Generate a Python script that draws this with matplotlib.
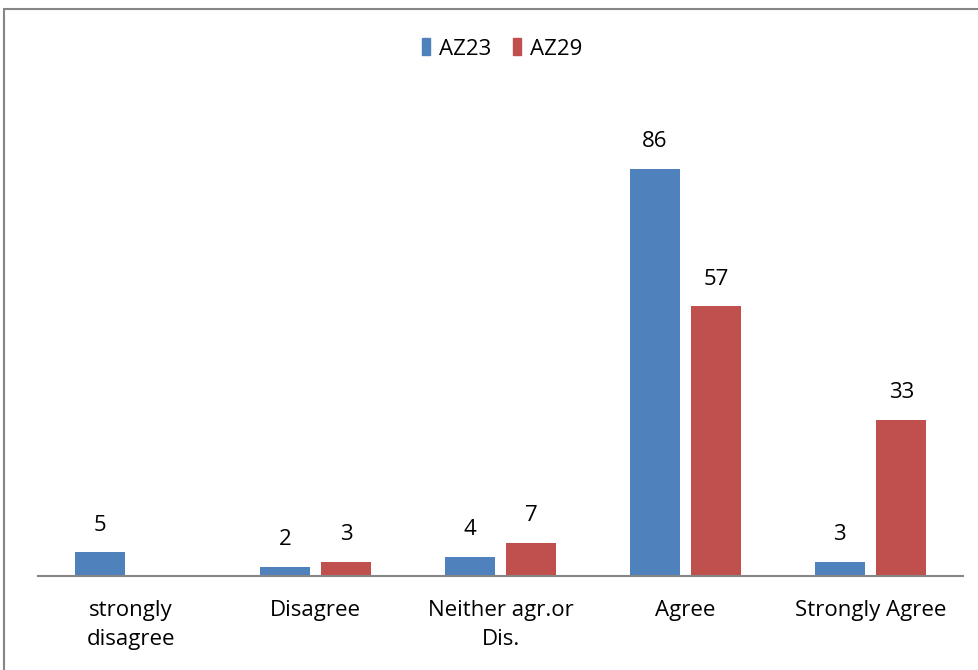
import matplotlib.pyplot as plt
import matplotlib.patches as mpatches
import numpy as np

categories = ["strongly\ndisagree", "Disagree", "Neither agr.or\nDis.", "Agree", "Strongly Agree"]
az23 = [5, 2, 4, 86, 3]
az29 = [None, 3, 7, 57, 33]

blue = "#4F81BD"
red = "#C0504D"
grey = "#868686"

plt.rcParams['font.family'] = ['Open Sans', 'DejaVu Sans']

fig = plt.figure(figsize=(9.79, 6.70), dpi=100)
ax = fig.add_axes([38 / 979, 94 / 670, 925 / 979, 473.3 / 670])

x = np.arange(len(categories))
width = 0.268
offset = 0.166

for xi, v in zip(x, az23):
    if v is not None:
        ax.bar(xi - offset, v, width, color=blue)
        ax.annotate(str(v), (xi - offset, v), xytext=(0, 12), textcoords="offset points",
                    ha="center", va="bottom", fontsize=16)
for xi, v in zip(x, az29):
    if v is not None:
        ax.bar(xi + offset, v, width, color=red)
        ax.annotate(str(v), (xi + offset, v), xytext=(0, 12), textcoords="offset points",
                    ha="center", va="bottom", fontsize=16)

ax.set_xlim(-0.5, len(categories) - 0.5)
ax.set_ylim(0, 100)
ax.set_xticks(x)
ax.set_xticklabels(categories, fontsize=16, linespacing=1.55)
ax.tick_params(axis="x", length=0, pad=17)
ax.set_yticks([])
for side in ["top", "right", "left"]:
    ax.spines[side].set_visible(False)
ax.spines["bottom"].set_color(grey)
ax.spines["bottom"].set_linewidth(1.5)

handles = [mpatches.Patch(color=blue, label="AZ23"), mpatches.Patch(color=red, label="AZ29")]
fig.legend(handles=handles, loc="center", bbox_to_anchor=(502 / 979, 1 - 49 / 670), ncol=2,
           frameon=False, fontsize=16, handlelength=0.35, handleheight=0.8, handletextpad=0.4,
           columnspacing=1.0)

# outer chart border
fig.patches.append(mpatches.Rectangle((4 / 979, -0.1), 1.2, 1 - 9 / 670 + 0.1,
                                      transform=fig.transFigure, fill=False,
                                      edgecolor=grey, linewidth=1.5))

fig.savefig("out.png", dpi=100)
